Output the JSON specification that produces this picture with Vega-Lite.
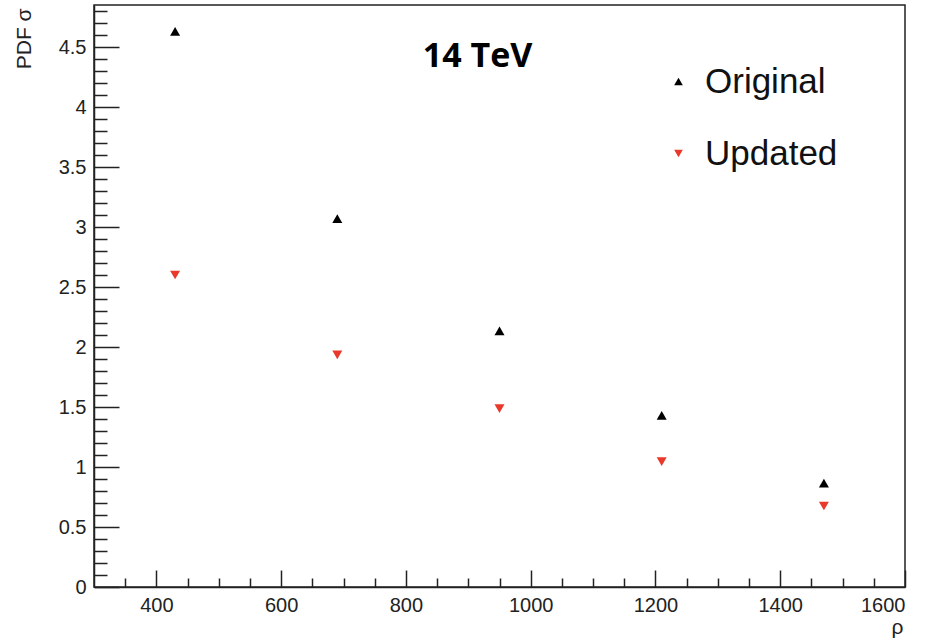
{
  "$schema": "https://vega.github.io/schema/vega-lite/v6.json",
  "width": 811,
  "height": 582,
  "autosize": "none",
  "padding": {"left": 94, "top": 5, "right": 27, "bottom": 51},
  "background": "white",
  "config": {
    "view": {"stroke": "#222222", "strokeWidth": 1.5},
    "font": "Liberation Sans"
  },
  "datasets": {
    "pts": [
      {"rho": 430, "sigma": 4.63, "series": "Original"},
      {"rho": 690, "sigma": 3.07, "series": "Original"},
      {"rho": 950, "sigma": 2.135, "series": "Original"},
      {"rho": 1210, "sigma": 1.43, "series": "Original"},
      {"rho": 1470, "sigma": 0.866, "series": "Original"},
      {"rho": 430, "sigma": 2.6, "series": "Updated"},
      {"rho": 690, "sigma": 1.935, "series": "Updated"},
      {"rho": 950, "sigma": 1.487, "series": "Updated"},
      {"rho": 1210, "sigma": 1.045, "series": "Updated"},
      {"rho": 1470, "sigma": 0.675, "series": "Updated"}
    ],
    "label": [{"rho": 915, "sigma": 4.33, "text": "14 TeV"}]
  },
  "layer": [
    {
      "data": {"name": "pts"},
      "mark": {"type": "point", "filled": true, "size": 100, "opacity": 1},
      "encoding": {
        "x": {
          "field": "rho", "type": "quantitative",
          "scale": {"domain": [300, 1600], "nice": false, "zero": false},
          "axis": {
            "orient": "bottom",
            "values": [400, 600, 800, 1000, 1200, 1400, 1600],
            "format": "d",
            "tickSize": -17, "tickColor": "#222222", "tickWidth": 1.5,
            "domainColor": "#222222", "domainWidth": 1.5,
            "labelFontSize": 20, "labelColor": "#222222", "labelPadding": 25,
            "grid": false,
            "title": "ρ", "titleFontSize": 21, "titleFontWeight": "normal", "titleColor": "#222222",
            "titleX": 809, "titleY": 46, "titleAlign": "right", "titleBaseline": "alphabetic"
          }
        },
        "y": {
          "field": "sigma", "type": "quantitative",
          "scale": {"domain": [0, 4.85], "nice": false},
          "axis": {
            "orient": "left",
            "values": [0, 0.5, 1, 1.5, 2, 2.5, 3, 3.5, 4, 4.5],
            "labelExpr": "'' + datum.value",
            "tickSize": -25, "tickColor": "#222222", "tickWidth": 1.5,
            "domainColor": "#222222", "domainWidth": 1.5,
            "labelFontSize": 20, "labelColor": "#222222", "labelPadding": 33,
            "grid": false,
            "title": "PDF   σ", "titleFontSize": 21, "titleFontWeight": "normal", "titleColor": "#222222",
            "titleAngle": -90, "titleX": -64, "titleY": 3, "titleAlign": "right", "titleBaseline": "alphabetic"
          }
        },
        "color": {
          "field": "series", "type": "nominal",
          "scale": {"domain": ["Original", "Updated"], "range": ["#000000", "#e8392b"]},
          "legend": {
            "orient": "none", "legendX": 567, "legendY": 59, "title": null,
            "labelFontSize": 35, "labelColor": "#111111", "symbolSize": 75,
            "rowPadding": 36, "labelOffset": 9, "symbolStrokeWidth": 0
          }
        },
        "shape": {
          "field": "series", "type": "nominal",
          "scale": {"domain": ["Original", "Updated"], "range": ["triangle-up", "triangle-down"]},
          "legend": {
            "orient": "none", "legendX": 567, "legendY": 59, "title": null,
            "labelFontSize": 35, "labelColor": "#111111", "symbolSize": 75,
            "rowPadding": 36, "labelOffset": 9, "symbolStrokeWidth": 0
          }
        }
      }
    },
    {
      "data": {"name": "pts"},
      "mark": {"type": "point", "opacity": 0},
      "encoding": {
        "x": {
          "field": "rho", "type": "quantitative",
          "axis": {
            "orient": "bottom",
            "values": [350, 450, 500, 550, 650, 700, 750, 850, 900, 950, 1050, 1100, 1150, 1250, 1300, 1350, 1450, 1500, 1550],
            "labels": false, "domain": false, "grid": false, "title": null,
            "tickSize": -9, "tickColor": "#222222", "tickWidth": 1.5
          }
        },
        "y": {
          "field": "sigma", "type": "quantitative",
          "axis": {
            "orient": "left",
            "values": [0.1, 0.2, 0.3, 0.4, 0.6, 0.7, 0.8, 0.9, 1.1, 1.2, 1.3, 1.4, 1.6, 1.7, 1.8, 1.9, 2.1, 2.2, 2.3, 2.4, 2.6, 2.7, 2.8, 2.9, 3.1, 3.2, 3.3, 3.4, 3.6, 3.7, 3.8, 3.9, 4.1, 4.2, 4.3, 4.4, 4.6, 4.7, 4.8],
            "labels": false, "domain": false, "grid": false, "title": null,
            "tickSize": -13, "tickColor": "#222222", "tickWidth": 1.5
          }
        }
      }
    },
    {
      "data": {"name": "label"},
      "mark": {"type": "text", "font": "Open Sans", "fontWeight": "bold", "fontSize": 34, "align": "center", "baseline": "alphabetic", "color": "#000000"},
      "encoding": {
        "x": {"field": "rho", "type": "quantitative", "axis": null},
        "y": {"field": "sigma", "type": "quantitative", "axis": null},
        "text": {"field": "text", "type": "nominal"}
      }
    }
  ],
  "resolve": {"axis": {"x": "independent", "y": "independent"}}
}
